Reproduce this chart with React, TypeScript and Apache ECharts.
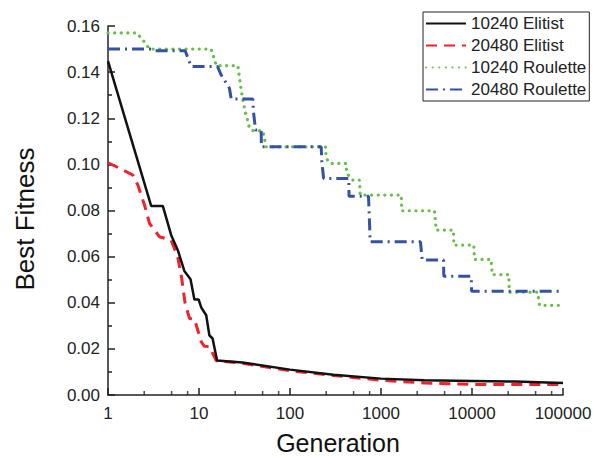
import React, { useEffect, useRef } from "react";
import * as echarts from "echarts";

const seriesNames = ["10240 Elitist", "20480 Elitist", "10240 Roulette", "20480 Roulette"];
const xTitle = "Generation";
const yTitle = "Best Fitness";

const elitist10240Gen = [1, 2.98, 4.0, 4.95, 5.85, 6.9, 8.07, 8.9, 9.9, 10.6, 12, 13, 14.1, 15.8, 30, 100, 300, 1000, 3000, 10000, 30000, 100000];
const elitist10240Val = [0.1448, 0.082, 0.082, 0.0693, 0.0628, 0.0538, 0.0502, 0.0414, 0.0414, 0.0379, 0.0346, 0.0259, 0.0245, 0.015, 0.0141, 0.011, 0.0088, 0.0071, 0.0064, 0.0061, 0.0058, 0.0052];

const elitist20480Gen = [1, 1.34, 1.87, 2.13, 2.52, 2.86, 3.68, 4.95, 5.84, 6.46, 7.04, 7.86, 8.9, 10.6, 11.5, 13, 15.5, 30, 100, 300, 1000, 3000, 10000, 30000, 100000];
const elitist20480Val = [0.1007, 0.0983, 0.0954, 0.091, 0.0823, 0.0744, 0.0686, 0.0671, 0.0599, 0.0505, 0.0397, 0.0332, 0.033, 0.023, 0.0211, 0.021, 0.0148, 0.0138, 0.0105, 0.0085, 0.0064, 0.0052, 0.0046, 0.0045, 0.0045];

const roulette10240Gen = [1, 2.06, 2.41, 2.86, 13.6, 15.5, 26.7, 29.1, 30.3, 32.2, 34.3, 35.9, 39.0, 50.2, 54.7, 245, 250, 277, 415, 421, 490, 580, 591, 1667, 1693, 3870, 4045, 6270, 6310, 10470, 10650, 16240, 16670, 25370, 25700, 52500, 55200, 100000];
const roulette10240Val = [0.157, 0.157, 0.154, 0.15, 0.15, 0.1428, 0.1428, 0.132, 0.128, 0.1228, 0.119, 0.1156, 0.1146, 0.1146, 0.1076, 0.1076, 0.1026, 0.1004, 0.1004, 0.0961, 0.0932, 0.0932, 0.0867, 0.0867, 0.0799, 0.0799, 0.0715, 0.0715, 0.065, 0.065, 0.0588, 0.0588, 0.0522, 0.0522, 0.0446, 0.0446, 0.0389, 0.0389];

const roulette20480Gen = [1, 3.0, 3.24, 7.05, 8.2, 16.0, 17.5, 21.6, 22.6, 39.0, 39.5, 40.7, 41.8, 48.2, 48.5, 220, 224, 234, 443, 445, 729, 753, 760, 2716, 2835, 4860, 4900, 9800, 9900, 100000];
const roulette20480Val = [0.15, 0.15, 0.1493, 0.1493, 0.1424, 0.1424, 0.1388, 0.133, 0.1283, 0.1283, 0.1236, 0.119, 0.1149, 0.1149, 0.1076, 0.1076, 0.1011, 0.0939, 0.0939, 0.0862, 0.0862, 0.0715, 0.0664, 0.0664, 0.0585, 0.0585, 0.0515, 0.0515, 0.045, 0.045];

const decades = [1, 10, 100, 1000, 10000];
const minorMultipliers = [2.5, 5, 7.5];

const pair = (g: number[], v: number[]) => g.map((x, i) => [x, v[i]]);

export default function App() {
  const ref = useRef<HTMLDivElement>(null);
  useEffect(() => {
    if (!ref.current) return;
    const chart = echarts.init(ref.current, undefined, { renderer: "svg" });
    const font = "Liberation Sans, Arial, sans-serif";
    const minorTicks: number[][] = [];
    decades.forEach((d) => minorMultipliers.forEach((m) => minorTicks.push([d * m, 0])));
    const axisColor = "#222";
    chart.setOption({
      animation: false,
      backgroundColor: "#fff",
      textStyle: { fontFamily: font },
      grid: { left: 108, right: 43, top: 26, bottom: 63 },
      graphic: [
        {
          type: "text",
          x: 338,
          y: 443,
          style: { text: xTitle, fontSize: 25, fill: "#111", fontFamily: font, align: "center", verticalAlign: "middle" },
        },
        {
          type: "text",
          x: 25,
          y: 219,
          rotation: Math.PI / 2,
          style: { text: yTitle, fontSize: 26, fill: "#111", fontFamily: font, align: "center", verticalAlign: "middle" },
        },
      ],
      legend: {
        data: seriesNames,
        orient: "vertical",
        left: 423,
        top: 12,
        padding: [3, 3, 3, 2],
        itemGap: 5,
        itemWidth: 40,
        itemHeight: 14,
        borderColor: "#222",
        borderWidth: 1,
        itemStyle: { color: "rgba(0,0,0,0)", borderWidth: 0, opacity: 0 },
        textStyle: { fontSize: 17, color: "#222", fontFamily: font },
      },
      xAxis: {
        type: "log",
        logBase: 10,
        min: 1,
        max: 100000,
        axisLine: { lineStyle: { color: axisColor, width: 1.5 } },
        axisTick: { inside: true, length: 7, lineStyle: { color: axisColor, width: 1.5 } },
        axisLabel: { fontSize: 17, color: "#222", margin: 10, fontFamily: font, formatter: (v: number) => String(Math.round(v)) },
        splitLine: { show: false },
      },
      yAxis: {
        type: "value",
        min: 0,
        max: 0.16,
        interval: 0.02,
        axisLine: { show: true, lineStyle: { color: axisColor, width: 1.5 } },
        axisTick: { show: true, inside: true, length: 7, lineStyle: { color: axisColor, width: 1.5 } },
        minorTick: { show: true, splitNumber: 2, length: 4, lineStyle: { color: axisColor, width: 1.5 } },
        axisLabel: { fontSize: 17, color: "#222", margin: 8, fontFamily: font, formatter: (v: number) => v.toFixed(2) },
        splitLine: { show: false },
      },
      series: [
        {
          name: seriesNames[0],
          type: "line",
          symbol: "none",
          data: pair(elitist10240Gen, elitist10240Val),
          lineStyle: { color: "#111", width: 2.5, type: "solid" },
          itemStyle: { color: "#111" },
          z: 5,
        },
        {
          name: seriesNames[1],
          type: "line",
          symbol: "none",
          data: pair(elitist20480Gen, elitist20480Val),
          lineStyle: { color: "#f0222b", width: 3, type: [11, 7] },
          itemStyle: { color: "#f0222b" },
          z: 4,
        },
        {
          name: seriesNames[2],
          type: "line",
          symbol: "none",
          data: pair(roulette10240Gen, roulette10240Val),
          lineStyle: { color: "#69be48", width: 3.2, type: [0.1, 6.5], cap: "round" },
          itemStyle: { color: "#69be48" },
          z: 3,
        },
        {
          name: seriesNames[3],
          type: "line",
          symbol: "none",
          data: pair(roulette20480Gen, roulette20480Val),
          lineStyle: { color: "#3452a3", width: 3, type: [12, 5, 2, 5] },
          itemStyle: { color: "#3452a3" },
          z: 3,
        },
        {
          name: "minorTicks",
          type: "scatter",
          silent: true,
          clip: false,
          symbol: "rect",
          symbolSize: [1.5, 4],
          symbolOffset: [0, -2],
          itemStyle: { color: axisColor },
          data: minorTicks,
          z: 6,
        },
      ],
    });
    return () => chart.dispose();
  }, []);
  return <div ref={ref} style={{ position: "fixed", left: 0, top: 0, width: 606, height: 458 }} />;
}
